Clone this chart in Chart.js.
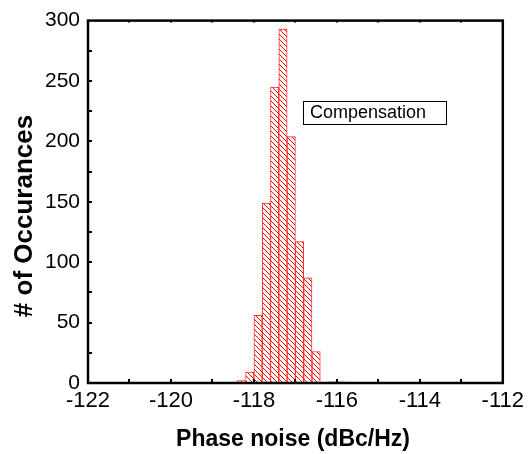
<!DOCTYPE html>
<html>
<head>
<meta charset="utf-8">
<script src="https://cdn.jsdelivr.net/npm/chart.js@4.4.1/dist/chart.umd.min.js"></script>
<style>
  html, body { margin: 0; padding: 0; background: #fff; }
  #wrap { width: 529px; height: 454px; position: relative; }
</style>
</head>
<body>
<div id="wrap"><canvas id="histChart"></canvas></div>
<script>
// --- DATA ---
// bin centres (dBc/Hz), bins are 0.2 wide
const binCenters = [-118.3, -118.1, -117.9, -117.7, -117.5, -117.3, -117.1, -116.9, -116.7, -116.5, -116.3, -116.1, -115.9];
const counts = [2, 9, 56, 149, 245, 293, 204, 117, 87, 26, 0, 1, 1];
const seriesLabel = "Compensation";
const xTitle = "Phase noise (dBc/Hz)";
const yTitle = "# of Occurances";
const xRange = [-122, -112];
const yRange = [0, 300];

const FONT = "'Liberation Sans', Arial, sans-serif";

// --- HATCH PATTERN ---
function makeHatch() {
    const size = 5;
    const c = document.createElement("canvas");
    c.width = size;
    c.height = size;
    const g = c.getContext("2d");
    g.fillStyle = "#ffffff";
    g.fillRect(0, 0, size, size);
    g.strokeStyle = "#ff0000";
    g.lineWidth = 1;
    g.beginPath();
    g.moveTo(-1, -1); g.lineTo(size + 1, size + 1);
    g.moveTo(-1, size - 1); g.lineTo(1, size + 1);
    g.moveTo(size - 1, -1); g.lineTo(size + 1, 1);
    g.stroke();
    return g.createPattern(c, "repeat");
}

// --- FRAME, TICKS, TITLES, LABEL BOX ---
const decorPlugin = {
    id: "decor",
    afterDraw(chart) {
        const ctx = chart.ctx;
        const a = chart.chartArea;
        const xs = chart.scales.x;
        const ys = chart.scales.y;
        ctx.save();

        // inward ticks
        ctx.strokeStyle = "#000";
        ctx.lineWidth = 2;
        ctx.beginPath();
        for (let v = xRange[0] + 1; v < xRange[1]; v++) {
            const px = Math.round(xs.getPixelForValue(v));
            ctx.moveTo(px, a.bottom);
            ctx.lineTo(px, a.bottom - 4);
            ctx.moveTo(px, a.top);
            ctx.lineTo(px, a.top + 2);
        }
        for (let v = yRange[0] + 25; v < yRange[1]; v += 25) {
            const py = Math.round(ys.getPixelForValue(v));
            ctx.moveTo(a.left, py);
            ctx.lineTo(a.left + 4, py);
        }
        ctx.stroke();

        // frame
        ctx.lineWidth = 2.5;
        ctx.strokeRect(a.left, a.top, a.right - a.left, a.bottom - a.top);

        // label box
        ctx.lineWidth = 1;
        ctx.strokeStyle = "#000";
        ctx.strokeRect(303.5, 101.5, 143, 23);
        ctx.fillStyle = "#000";
        ctx.font = "18px " + FONT;
        ctx.textAlign = "left";
        ctx.textBaseline = "middle";
        ctx.fillText(seriesLabel, 310, 113.5);

        // axis titles
        ctx.font = "bold 23px " + FONT;
        ctx.textAlign = "center";
        ctx.textBaseline = "alphabetic";
        ctx.fillText(xTitle, 293, 446);

        ctx.translate(32, 216);
        ctx.rotate(-Math.PI / 2);
        ctx.font = "bold 26px " + FONT;
        ctx.fillText(yTitle, 0, 0);
        ctx.restore();
    }
};

const points = binCenters.map((x, i) => ({ x: x, y: counts[i] }));

const ctx = document.getElementById("histChart").getContext("2d");
new Chart(ctx, {
    type: "bar",
    data: {
        datasets: [{
            label: seriesLabel,
            data: points,
            backgroundColor: makeHatch(),
            borderColor: "#ff2a2a",
            borderWidth: 1,
            borderSkipped: false,
            barPercentage: 1,
            categoryPercentage: 1
        }]
    },
    options: {
        responsive: true,
        maintainAspectRatio: false,
        animation: false,
        layout: { padding: { top: 11, right: 23, left: 0, bottom: 0 } },
        plugins: {
            legend: { display: false },
            tooltip: { enabled: false }
        },
        scales: {
            x: {
                type: "linear",
                min: xRange[0],
                max: xRange[1],
                offset: false,
                grid: { display: false, drawTicks: false },
                border: { display: false },
                ticks: {
                    stepSize: 2,
                    padding: 5,
                    color: "#000",
                    font: { family: FONT, size: 22 },
                    maxRotation: 0
                },
                afterFit(scale) { scale.height = 71; }
            },
            y: {
                min: yRange[0],
                max: yRange[1],
                grid: { display: false, drawTicks: false },
                border: { display: false },
                ticks: {
                    stepSize: 50,
                    padding: 8,
                    color: "#000",
                    font: { family: FONT, size: 21 }
                },
                afterFit(scale) { scale.width = 88; }
            }
        }
    },
    plugins: [decorPlugin]
});
</script>
</body>
</html>
